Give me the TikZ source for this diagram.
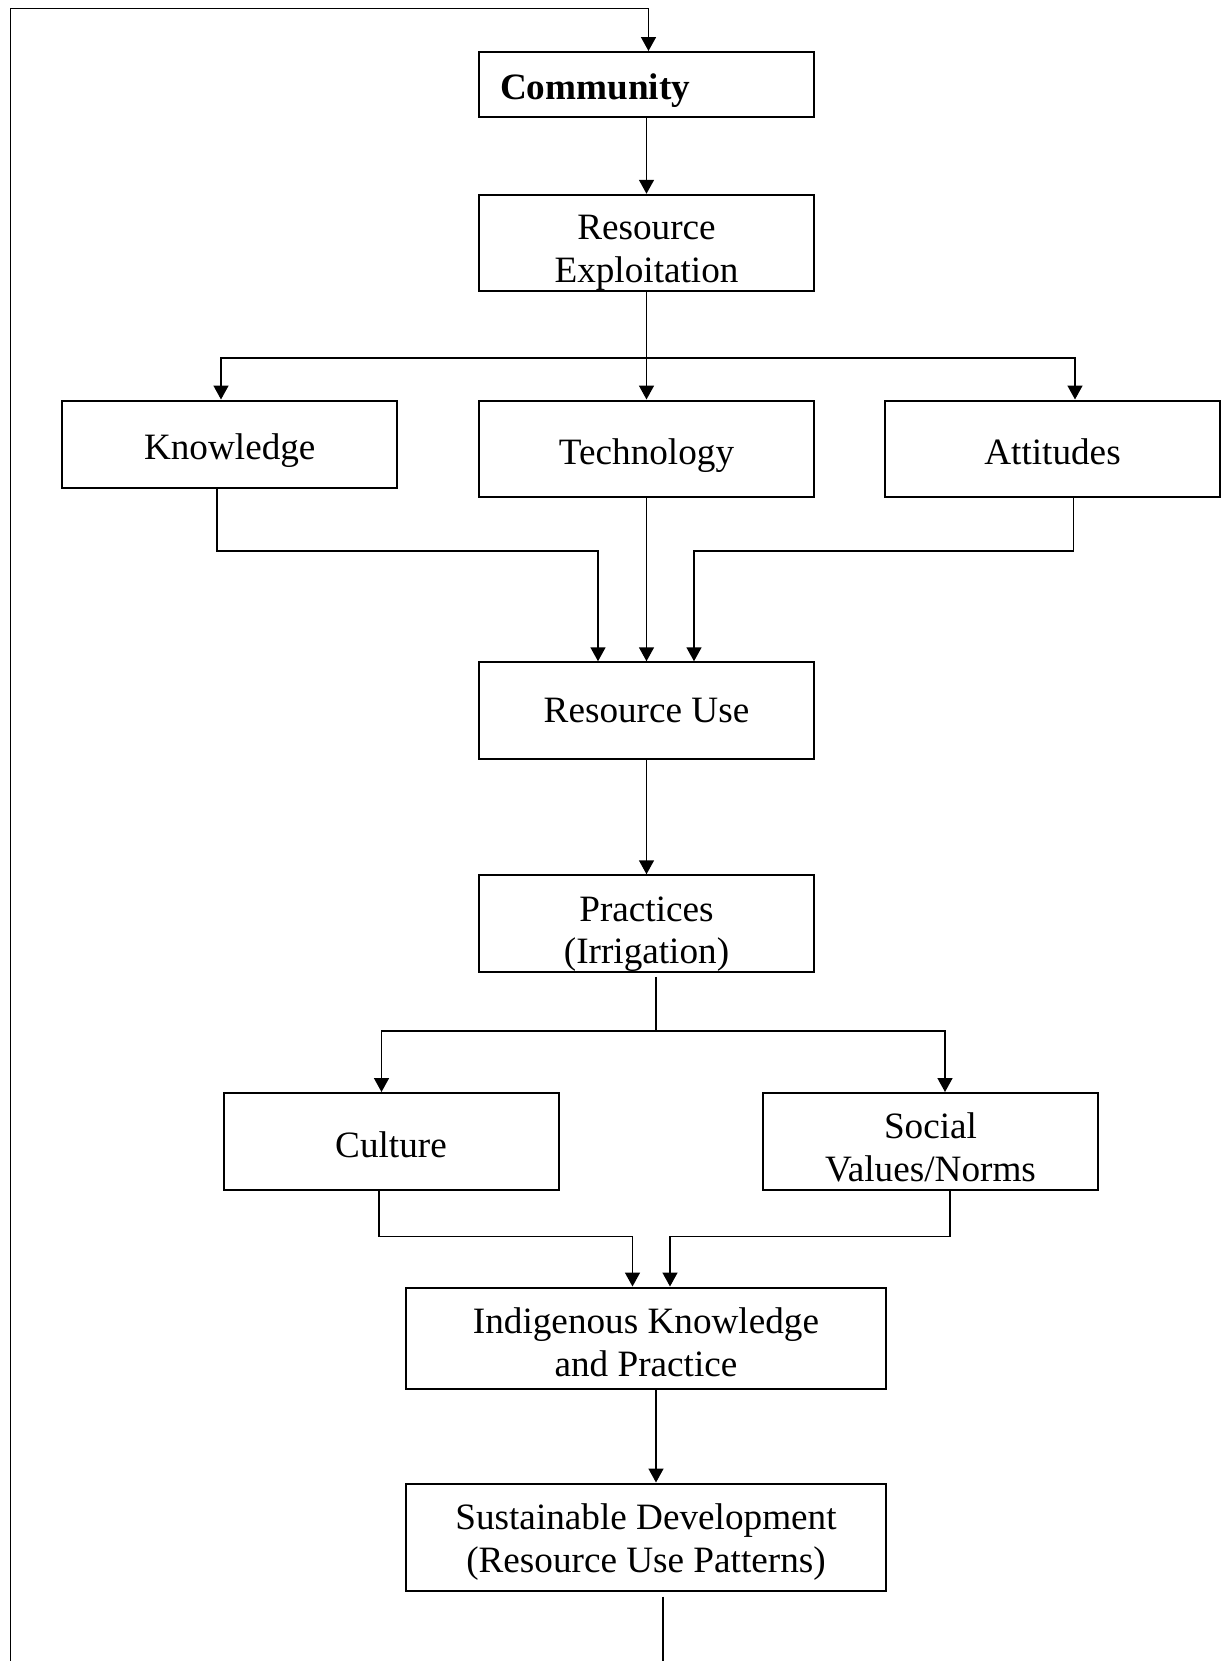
\documentclass[tikz,border=0pt]{standalone}
\usepackage{fontspec}
\setmainfont{Liberation Serif}
\usetikzlibrary{arrows.meta,calc}

\begin{document}
\begin{tikzpicture}[x=0.5pt,y=-0.5pt,line width=0.8pt,
    box/.style={draw, line width=1pt, minimum width=167.5pt, minimum height=48.25pt, inner sep=0pt,
        align=center, font=\fontsize{18.6}{21.2}\selectfont},
    arr/.style={-{Triangle[width=7.5pt,length=7pt]}}]
    \useasboundingbox (0,0) rectangle (1226,1661);

    % Boxes
    \node[box, minimum height=32.5pt, text width=146.5pt, inner xsep=10.5pt, align=left, text height=19.1pt] (comm) at (646.5,84.5) {\textbf{Community}};
    \node[box, text height=43.1pt] (rex) at (646.5,243) {Resource\\Exploitation};
    \node[box, minimum height=43.5pt, text height=19.1pt] (know) at (229.75,444) {Knowledge};
    \node[box, text height=20.1pt] (tech) at (646.5,448.75) {Technology};
    \node[box, text height=15.9pt] (att) at (1052.5,448.75) {Attitudes};
    \node[box] (ruse) at (646.5,710.5) {Resource Use};
    \node[box, text height=44.1pt] (prac) at (646.5,923.5) {Practices\\(Irrigation)};
    \node[box, text height=16.9pt] (cult) at (391,1141.25) {Culture};
    \node[box, text height=40.2pt] (soc) at (930.5,1141.25) {Social\\Values/Norms};
    \node[box, minimum width=240pt, minimum height=50.75pt, text height=38.1pt] (ikp) at (646,1338.25) {Indigenous Knowledge\\and Practice};
    \node[box, minimum width=240pt, minimum height=53.5pt, text height=39.3pt] (sdev) at (646,1537) {Sustainable Development\\(Resource Use Patterns)};

    % Community to resource exploitation
    \draw[arr] (comm) -- (rex);

    % Split into knowledge, technology, attitudes
    \draw[arr] (rex) -- (tech);
    \coordinate (split1) at ($(rex.south)+(0,66)$);
    \draw[arr] (split1) -| ($(know.north)+(-8.75,0)$);
    \draw[arr] (split1) -| ($(att.north)+(22.5,0)$);

    % Join into resource use
    \draw[arr] ($(know.south)+(-12.75,0)$) |- ($(ruse.north)+(-48.5,-110)$) -- ($(ruse.north)+(-48.5,0)$);
    \draw[arr] (tech) -- (ruse);
    \draw[arr] ($(att.south)+(21,0)$) |- ($(ruse.north)+(47.5,-110)$) -- ($(ruse.north)+(47.5,0)$);

    \draw[arr] (ruse) -- (prac);

    % Split into culture and social values
    \coordinate (split2) at ($(prac.south)+(9.5,58)$);
    \draw[shorten <=2pt] ($(prac.south)+(9.5,0)$) -- (split2);
    \draw[arr] (split2) -| ($(cult.north)+(-9.5,0)$);
    \draw[arr] (split2) -| ($(soc.north)+(14.5,0)$);

    % Join into indigenous knowledge
    \draw[arr] ($(cult.south)+(-12,0)$) |- ($(ikp.north)+(-13.5,-50)$) -- ($(ikp.north)+(-13.5,0)$);
    \draw[arr] ($(soc.south)+(19.5,0)$) |- ($(ikp.north)+(24,-50)$) -- ($(ikp.north)+(24,0)$);

    \draw[arr] ($(ikp.south)+(10,0)$) -- ($(sdev.north)+(10,0)$);

    % Feedback loop
    \coordinate (loopend) at (663,1661);
    \coordinate (loopstart) at (10.6,1661);
    \draw[shorten <=2.5pt] ($(sdev.south)+(17,0)$) -- (loopend);
    \draw[arr] (loopstart) -- (10.6,8.5) -| ($(comm.north)+(2,0)$);
\end{tikzpicture}
\end{document}
